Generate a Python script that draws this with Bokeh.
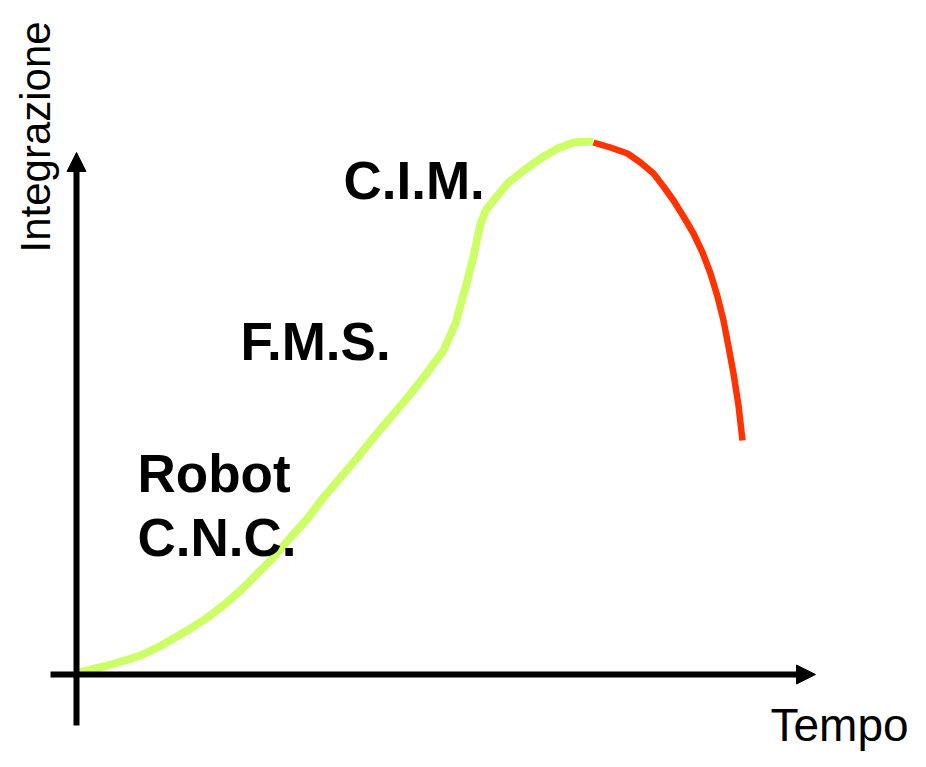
import math
from bokeh.plotting import figure
from bokeh.models import Range1d, Arrow, NormalHead
from bokeh.core.properties import value
from bokeh.embed import file_html
from bokeh.resources import INLINE

# Rising phase (green): time vs integration (origin at the axes' crossing)
green_time = [-1, 15, 31, 48, 64, 81, 97, 114, 131, 148, 164, 177, 197, 214, 231, 247,
              264, 281, 297, 314, 331, 347, 367, 379, 389, 396, 401, 404, 409, 417, 431,
              447, 464, 481, 497, 517]
green_integr = [1, 5, 9, 14, 19, 27, 36, 46, 57, 70, 84, 97, 117, 137, 156, 177,
                197, 217, 237, 257, 277, 297, 324, 351, 387, 414, 437, 450, 464, 474, 491,
                504, 516, 526, 532, 533]

# Declining phase (red)
red_time = [517, 534, 551, 564, 577, 587, 597, 607, 617, 626, 634, 641, 647, 652, 657, 662, 666]
red_integr = [532, 527, 521, 512, 501, 488, 474, 458, 441, 422, 401, 378, 354, 328, 301, 269, 234]

# Stage labels
stage_labels = ["C.I.M.", "F.M.S.", "Robot", "C.N.C."]
stage_time = [267, 164, 61, 61]
stage_integr = [494, 333, 201, 137]

x_label = "Tempo"
y_label = "Integrazione"

p = figure(width=910, height=751, output_backend="svg", toolbar_location=None,
           x_range=Range1d(-76, 834), y_range=Range1d(-77, 674),
           min_border=0, min_border_left=0, min_border_right=0,
           min_border_top=0, min_border_bottom=0)
p.axis.visible = False
p.xgrid.visible = False
p.ygrid.visible = False
p.outline_line_color = None
p.background_fill_color = "white"
p.border_fill_color = "white"

# axes with arrows
p.add_layout(Arrow(end=NormalHead(size=19, fill_color="black", line_color="black", line_width=1),
                   x_start=0, y_start=-51, x_end=0, y_end=522,
                   line_width=6, line_color="black"))
p.add_layout(Arrow(end=NormalHead(size=19, fill_color="black", line_color="black", line_width=1),
                   x_start=-26, y_start=0, x_end=739, y_end=0,
                   line_width=6, line_color="black"))

p.line(green_time, green_integr, line_color="#CCFF66", line_width=8, line_join="round")
p.line(red_time, red_integr, line_color="#FF3300", line_width=6.5, line_join="round")

p.text(x=stage_time, y=stage_integr, text=stage_labels,
       text_font=value("Liberation Sans"), text_font_style="bold",
       text_font_size="53px", text_color="black",
       text_align="left", text_baseline="alphabetic")

p.text(x=[694], y=[-50], text=[x_label],
       text_font=value("Liberation Sans"), text_font_size="46px",
       text_color="black", text_align="left", text_baseline="alphabetic")

p.text(x=[-41], y=[422], text=[y_label], angle=math.pi / 2,
       text_font=value("Liberation Sans"), text_font_size="42px",
       text_color="black", text_align="left", text_baseline="alphabetic")

open("out.html", "w").write(file_html(p, INLINE))
